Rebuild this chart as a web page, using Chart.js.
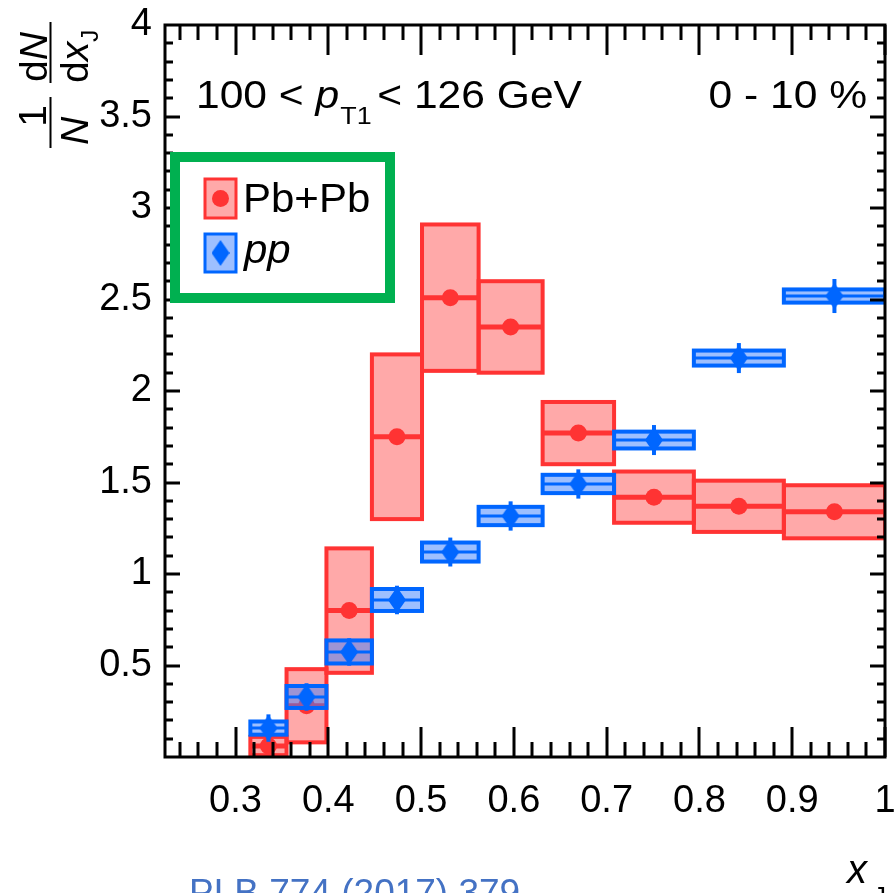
<!DOCTYPE html>
<html>
<head>
<meta charset="utf-8">
<script src="https://cdn.jsdelivr.net/npm/chart.js@4/dist/chart.umd.min.js"></script>
<style>
  html, body { margin: 0; padding: 0; background: #fff; }
  #wrap { width: 896px; height: 893px; }
</style>
</head>
<body>
<div id="wrap"><canvas id="xjChart" width="896" height="893"></canvas></div>
<script>
// x_J bins (log spaced) and measured distributions
const binEdges = [0.316, 0.355, 0.398, 0.447, 0.501, 0.562, 0.631, 0.708, 0.794, 0.891, 1.0];
const pbpbValues = [0.06, 0.28, 0.80, 1.75, 2.51, 2.35, 1.77, 1.42, 1.37, 1.34];
const pbpbSys    = [0.05, 0.20, 0.34, 0.45, 0.40, 0.25, 0.17, 0.14, 0.14, 0.145];
const ppValues   = [0.158, 0.328, 0.574, 0.858, 1.12, 1.317, 1.492, 1.732, 2.18, 2.519];
const ppSys      = [0.036, 0.06, 0.063, 0.06, 0.052, 0.05, 0.05, 0.046, 0.041, 0.036];
const ppStat     = [0.075, 0.075, 0.075, 0.078, 0.079, 0.08, 0.08, 0.082, 0.082, 0.093];
const xTickValues = [0.3, 0.4, 0.5, 0.6, 0.7, 0.8, 0.9, 1];
const yTickValues = [0.5, 1, 1.5, 2, 2.5, 3, 3.5, 4];

const FONT = "'Liberation Sans', Arial, Helvetica, sans-serif";
const RED = '#ff3333';
const RED_FILL = 'rgba(255, 51, 51, 0.42)';
const BLUE = '#0066ff';
const BLUE_FILL = 'rgba(60, 128, 255, 0.5)';
const GREEN = '#00b050';
const STRETCH = 1.12; // labels are set a little wide

const binCenter = i => (binEdges[i] + binEdges[i + 1]) / 2;

// elongated diamond marker for pp
function makeDiamond(w, h) {
    const c = document.createElement('canvas');
    c.width = w; c.height = h;
    const g = c.getContext('2d');
    g.fillStyle = BLUE;
    g.beginPath();
    g.moveTo(w / 2, 0);
    g.lineTo(w, h / 2);
    g.lineTo(w / 2, h);
    g.lineTo(0, h / 2);
    g.closePath();
    g.fill();
    return c;
}
const diamond = makeDiamond(18, 26);

function drawBoxes(chart, values, sys, stroke, fill, lineW) {
    const { ctx, chartArea: a, scales: { x, y } } = chart;
    ctx.save();
    ctx.beginPath();
    ctx.rect(a.left, a.top, a.right - a.left, a.bottom - a.top);
    ctx.clip();
    values.forEach((v, i) => {
        const x0 = x.getPixelForValue(binEdges[i]);
        const x1 = x.getPixelForValue(binEdges[i + 1]);
        const yHi = y.getPixelForValue(v + sys[i]);
        const yLo = y.getPixelForValue(v - sys[i]);
        const yc = y.getPixelForValue(v);
        ctx.fillStyle = fill;
        ctx.fillRect(x0, yHi, x1 - x0, yLo - yHi);
        ctx.strokeStyle = stroke;
        ctx.lineWidth = 4;
        ctx.strokeRect(x0, yHi, x1 - x0, yLo - yHi);
        ctx.lineWidth = lineW;
        ctx.beginPath();
        ctx.moveTo(x0, yc);
        ctx.lineTo(x1, yc);
        ctx.stroke();
    });
    ctx.restore();
}

const binPlugin = {
    id: 'bins',
    beforeDatasetDraw(chart, args) {
        const label = chart.data.datasets[args.index].label;
        if (label === 'Pb+Pb') {
            drawBoxes(chart, pbpbValues, pbpbSys, RED, RED_FILL, 5);
        } else if (label === 'pp') {
            drawBoxes(chart, ppValues, ppSys, BLUE, BLUE_FILL, 3);
            const { ctx, scales: { x, y } } = chart;
            ctx.save();
            ctx.strokeStyle = BLUE;
            ctx.lineWidth = 4;
            ppValues.forEach((v, i) => {
                const px = x.getPixelForValue(binCenter(i));
                ctx.beginPath();
                ctx.moveTo(px, y.getPixelForValue(v + ppStat[i]));
                ctx.lineTo(px, y.getPixelForValue(v - ppStat[i]));
                ctx.stroke();
            });
            ctx.restore();
        }
    }
};

// draws a run of text pieces [text, font, dy, dx] and returns its end x
function textRun(ctx, parts, x, y, sx = 1) {
    ctx.save();
    ctx.translate(x, y);
    ctx.scale(sx, 1);
    let cx = 0;
    parts.forEach(([t, f, dy, dx]) => {
        ctx.font = f;
        cx += dx || 0;
        ctx.fillText(t, cx, dy || 0);
        cx += ctx.measureText(t).width;
    });
    ctx.restore();
    return x + cx * sx;
}

const framePlugin = {
    id: 'frame',
    afterDraw(chart) {
        const { ctx, chartArea: a, scales: { x, y } } = chart;
        ctx.save();
        ctx.strokeStyle = '#000';
        ctx.lineWidth = 3;
        ctx.strokeRect(a.left, a.top, a.right - a.left, a.bottom - a.top);

        // inward ticks on all four sides
        ctx.beginPath();
        for (let k = 12; k <= 50; k++) {
            const v = k / 50;
            if (v < x.min || v > x.max) continue;
            const px = Math.round(x.getPixelForValue(v));
            const len = (k % 5 === 0) ? 30 : 15;
            ctx.moveTo(px, a.bottom); ctx.lineTo(px, a.bottom - len);
            ctx.moveTo(px, a.top); ctx.lineTo(px, a.top + len);
        }
        for (let k = 1; k < 40; k++) {
            const py = Math.round(y.getPixelForValue(k / 10));
            const len = (k % 5 === 0) ? 15 : 8;
            ctx.moveTo(a.left, py); ctx.lineTo(a.left + len, py);
            ctx.moveTo(a.right, py); ctx.lineTo(a.right - len, py);
        }
        ctx.stroke();

        // legend
        ctx.fillStyle = '#fff';
        ctx.fillRect(175, 157, 215, 141);
        ctx.strokeStyle = GREEN;
        ctx.lineWidth = 10;
        ctx.strokeRect(175, 157, 215, 141);

        ctx.lineWidth = 3;
        ctx.fillStyle = RED_FILL;
        ctx.fillRect(205, 179, 31, 39);
        ctx.strokeStyle = RED;
        ctx.strokeRect(205, 179, 31, 39);
        ctx.fillStyle = RED;
        ctx.beginPath();
        ctx.arc(220.5, 198.5, 8.5, 0, Math.PI * 2);
        ctx.fill();

        ctx.fillStyle = BLUE_FILL;
        ctx.fillRect(205, 234, 31, 38);
        ctx.strokeStyle = BLUE;
        ctx.strokeRect(205, 234, 31, 38);
        ctx.drawImage(diamond, 220.5 - 9, 253 - 13);

        ctx.fillStyle = '#000';
        ctx.textBaseline = 'alphabetic';
        ctx.textAlign = 'left';
        textRun(ctx, [['Pb+Pb', `40px ${FONT}`]], 243, 212, 1.05);
        textRun(ctx, [['pp', `italic 40px ${FONT}`]], 244, 263, 1.05);

        // selection labels
        textRun(ctx, [
            ['100 < ', `38px ${FONT}`],
            ['p', `italic 38px ${FONT}`],
            ['T1', `24px ${FONT}`, 16, 1],
            ['< 126 GeV', `38px ${FONT}`, 0, 5]
        ], 196, 108, STRETCH);
        ctx.font = `38px ${FONT}`;
        const w = ctx.measureText('0 - 10 %').width * STRETCH;
        textRun(ctx, [['0 - 10 %', `38px ${FONT}`]], 867 - w, 108, STRETCH);

        // x axis title
        ctx.font = `italic 40px ${FONT}`;
        ctx.fillText('x', 847, 883);
        ctx.font = `26px ${FONT}`;
        ctx.fillText('J', 873, 905);

        // reference
        ctx.fillStyle = '#4472c4';
        ctx.font = `37px ${FONT}`;
        ctx.fillText('PLB 774 (2017) 379', 189, 905);

        // y axis title: 1/N dN/dx_J, rotated
        ctx.fillStyle = '#000';
        ctx.rotate(-Math.PI / 2);
        ctx.textAlign = 'center';
        ctx.font = `39px ${FONT}`;
        ctx.fillText('1', -116, 46);
        ctx.font = `italic 39px ${FONT}`;
        ctx.fillText('N', -131, 88);
        ctx.fillRect(-148, 49.5, 51, 2);

        ctx.textAlign = 'left';
        textRun(ctx, [['d', `39px ${FONT}`], ['N', `italic 39px ${FONT}`]], -82, 47);
        ctx.fillRect(-83, 49.5, 61, 2);
        textRun(ctx, [['d', `39px ${FONT}`], ['x', `italic 39px ${FONT}`], ['J', `24px ${FONT}`, 10]], -83, 88);
        ctx.restore();
    }
};

new Chart(document.getElementById('xjChart'), {
    type: 'scatter',
    data: {
        datasets: [{
            label: 'pp',
            data: ppValues.map((v, i) => ({ x: binCenter(i), y: v })),
            pointStyle: diamond,
            order: 1
        }, {
            label: 'Pb+Pb',
            data: pbpbValues.map((v, i) => ({ x: binCenter(i), y: v })),
            pointStyle: 'circle',
            pointRadius: 8.5,
            backgroundColor: RED,
            borderWidth: 0,
            order: 2
        }]
    },
    options: {
        responsive: false,
        animation: false,
        devicePixelRatio: 1,
        layout: { padding: { top: 25, right: 11, left: 0, bottom: 0 } },
        plugins: { legend: { display: false }, tooltip: { enabled: false } },
        scales: {
            x: {
                type: 'linear', min: 0.224, max: 1.0,
                grid: { display: false, drawTicks: false },
                border: { display: false },
                afterBuildTicks: s => { s.ticks = xTickValues.map(v => ({ value: v })); },
                afterFit: s => { s.height = 136; s.paddingLeft = 0; s.paddingRight = 0; },
                ticks: {
                    padding: 22, color: '#000', autoSkip: false, maxRotation: 0,
                    font: { family: FONT, size: 38 },
                    callback: v => String(v)
                }
            },
            y: {
                type: 'linear', min: 0, max: 4,
                grid: { display: false, drawTicks: false },
                border: { display: false },
                afterBuildTicks: s => { s.ticks = yTickValues.map(v => ({ value: v })); },
                afterFit: s => { s.width = 165; s.paddingTop = 0; s.paddingBottom = 0; },
                ticks: {
                    padding: 13, color: '#000',
                    font: { family: FONT, size: 38 },
                    callback: v => String(v)
                }
            }
        }
    },
    plugins: [binPlugin, framePlugin]
});
</script>
</body>
</html>
